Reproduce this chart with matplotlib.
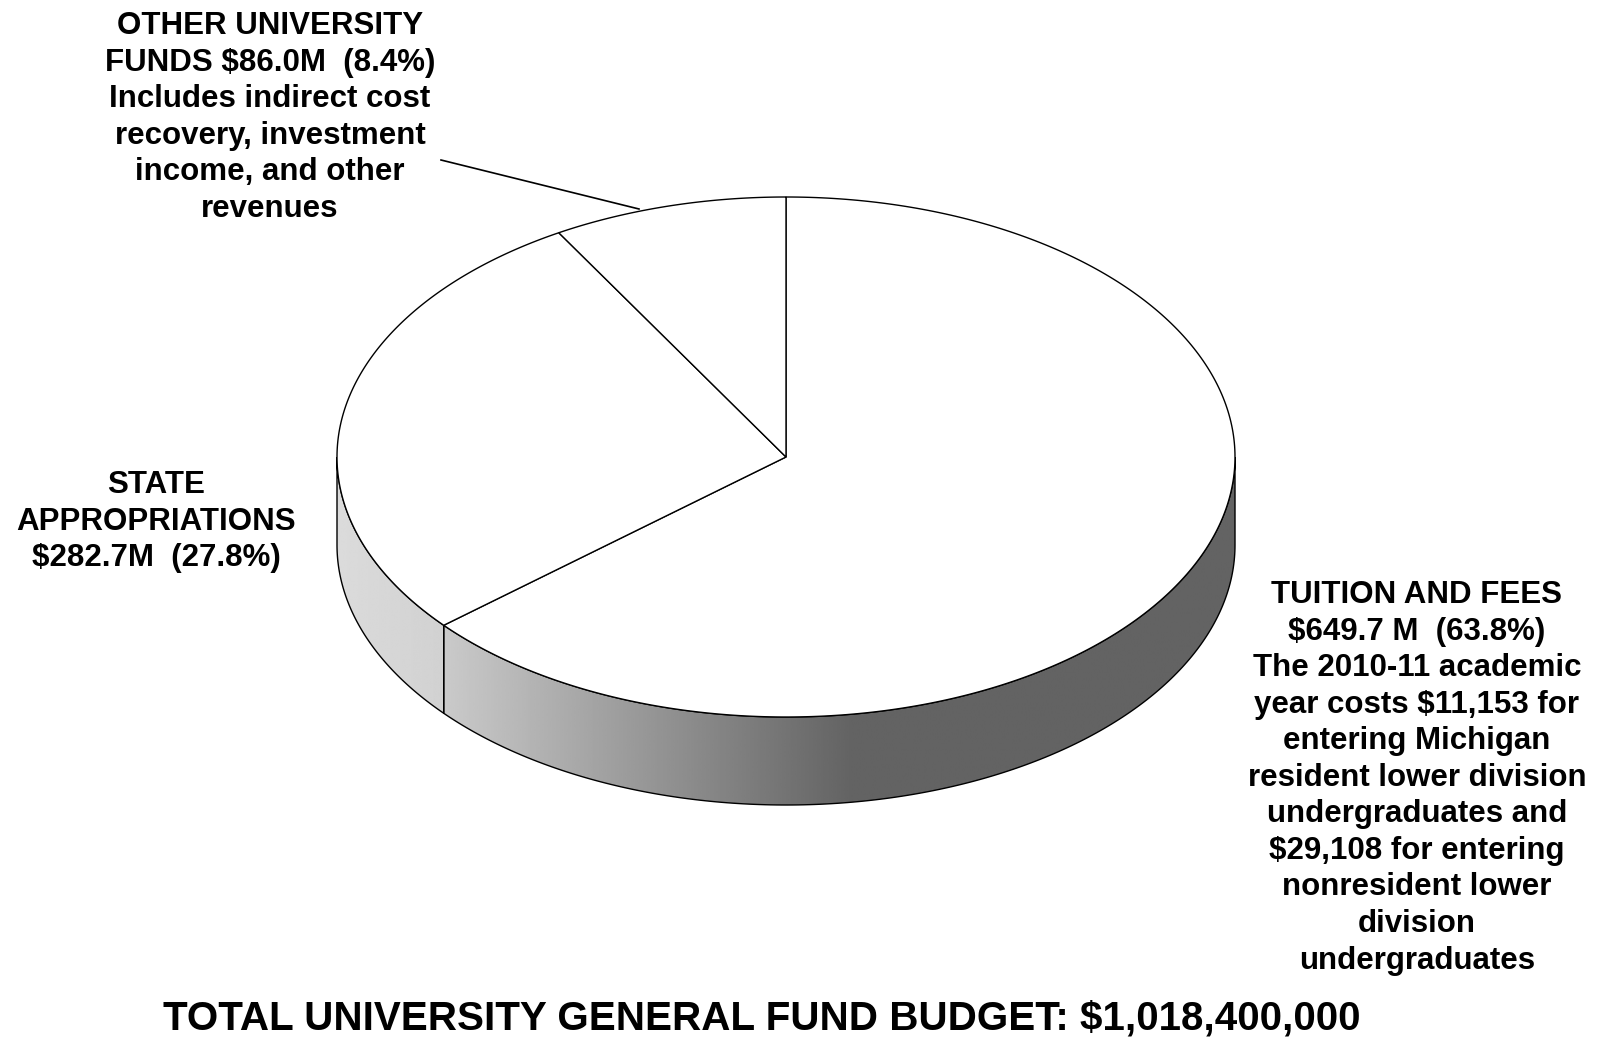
"""
University general fund budget, 3D-style pie chart
- top face drawn as ellipse wedges, front rim with a grey gradient
"""

import numpy as np
import matplotlib
matplotlib.use("Agg")
import matplotlib.pyplot as plt
from matplotlib.patches import Polygon

plt.rcParams["font.family"] = ["Liberation Sans", "DejaVu Sans"]

sources = ["TUITION AND FEES", "STATE APPROPRIATIONS", "OTHER UNIVERSITY FUNDS"]
amounts = [649.7, 282.7, 86.0]          # $M
label_texts = [
    "TUITION AND FEES\n$649.7 M  (63.8%)\nThe 2010-11 academic\nyear costs $11,153 for\n"
    "entering Michigan\nresident lower division\nundergraduates and\n$29,108 for entering\n"
    "nonresident lower\ndivision\nundergraduates",
    "STATE\nAPPROPRIATIONS\n$282.7M  (27.8%)",
    "OTHER UNIVERSITY\nFUNDS $86.0M  (8.4%)\nIncludes indirect cost\nrecovery, investment\n"
    "income, and other\nrevenues",
]
total_title = "TOTAL UNIVERSITY GENERAL FUND BUDGET: $1,018,400,000"

W, H = 1609, 1040
fig = plt.figure(figsize=(W / 100, H / 100), dpi=100)
ax = fig.add_axes([0, 0, 1, 1])
ax.set_xlim(0, W)
ax.set_ylim(H, 0)
ax.axis("off")

# pie geometry in pixel space (y down)
cx, cy, rx, ry, depth = 786, 457, 449, 260, 88

def ell(theta_deg, dy=0.0):
    t = np.radians(theta_deg)  # clockwise from 12 o'clock
    return cx + rx * np.sin(t), cy - ry * np.cos(t) + dy

fracs = np.array(amounts) / np.sum(amounts)
bounds = np.concatenate([[0], np.cumsum(fracs) * 360])

# rim gradients: (x, grey level) stops per slice
rim_shades = [
    ([445, 850, 1250], [0.79, 0.39, 0.39]),
    ([335, 445], [0.86, 0.82]),
    ([0, 1], [0.8, 0.8]),
]

for i in range(len(amounts)):
    a, b = max(bounds[i], 90), min(bounds[i + 1], 270)
    if b <= a:
        continue
    th = np.linspace(a, b, 200)
    tx, ty = ell(th)
    bx, by = ell(th[::-1], depth)
    poly = Polygon(np.column_stack([np.r_[tx, bx], np.r_[ty, by]]),
                   closed=True, facecolor="none", edgecolor="black", lw=1.0, zorder=3)
    ax.add_patch(poly)
    xs = np.linspace(tx.min(), tx.max(), 400)
    shade = np.interp(xs, *rim_shades[i])
    img = ax.imshow(shade[None, :], cmap="gray", vmin=0, vmax=1, aspect="auto",
                    extent=[xs[0], xs[-1], ty.max() + depth + 2, ty.min() - 2],
                    interpolation="bilinear", zorder=2)
    img.set_clip_path(poly)

# top face
for i in range(len(amounts)):
    th = np.linspace(bounds[i], bounds[i + 1], 300)
    x, y = ell(th)
    ax.add_patch(Polygon(np.column_stack([np.r_[cx, x], np.r_[cy, y]]), closed=True,
                         facecolor="white", edgecolor="black", lw=1.0, zorder=4))

# labels
lab_kw = dict(ha="center", va="top", fontsize=22.5, fontweight="bold", linespacing=1.285)
ax.text(1417, 580, label_texts[0], **lab_kw)
ax.text(156, 470, label_texts[1], **lab_kw)
ax.text(270, 11, label_texts[2], **lab_kw)
ax.plot([441, 639], [160, 209], color="black", lw=1.2, zorder=5)

ax.text(762, 1029, total_title, ha="center", va="baseline", fontsize=29.1, fontweight="bold")

fig.savefig("out.png", dpi=100)
